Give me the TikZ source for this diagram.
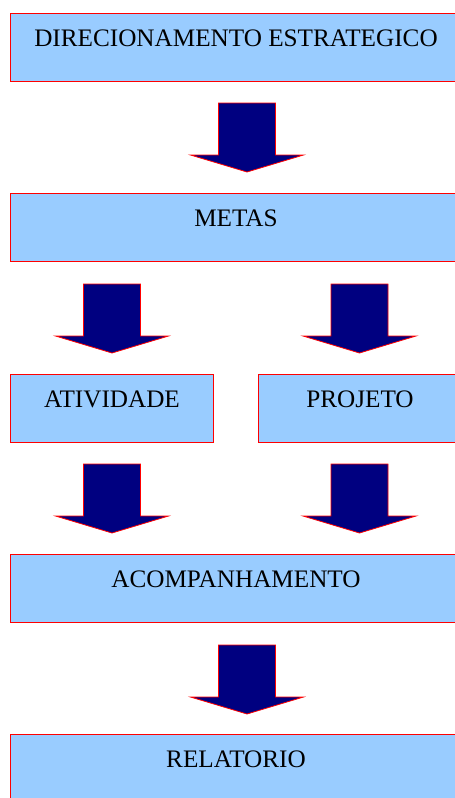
\documentclass[tikz,border=0pt]{standalone}
\usepackage{fontspec}
\setmainfont{Liberation Serif}
\definecolor{caixaazul}{HTML}{99CCFF}
\definecolor{setaazul}{HTML}{000080}

\tikzset{
  etapa/.style={draw=red, fill=caixaazul, line width=1pt, anchor=north west,
    inner xsep=0pt, inner ysep=0pt, minimum height=68pt,
    text height=33pt, text depth=35pt, font=\fontsize{25.2}{30}\selectfont},
  seta/.style={draw=red, fill=setaazul, line width=0.8pt, line join=miter}
}

% block arrow pointing down: #1 = x of the middle, #2 = y of the top
\newcommand{\setabaixo}[2]{%
  \draw[seta] (#1-28.5,#2) -- (#1+28.5,#2) -- (#1+28.5,#2+52) -- (#1+56.5,#2+52)
    -- (#1,#2+69) -- (#1-56.5,#2+52) -- (#1-28.5,#2+52) -- cycle;}

\begin{document}
\begin{tikzpicture}[x=1pt,y=-1pt]

\clip (0,0) rectangle (455,798);

% Boxes
\node [etapa, minimum width=451pt] (dir) at (10,13) {DIRECIONAMENTO ESTRATEGICO};
\node [etapa, minimum width=451pt] (metas) at (10,193) {METAS};
\node [etapa, minimum width=203pt] (atividade) at (10,374) {ATIVIDADE};
\node [etapa, minimum width=203pt] (projeto) at (258,374) {PROJETO};
\node [etapa, minimum width=451pt] (acomp) at (10,554) {ACOMPANHAMENTO};
\node [etapa, minimum width=451pt] (relatorio) at (10,734) {RELATORIO};

% Arrows
\setabaixo{247}{103}
\setabaixo{112}{284}
\setabaixo{359.5}{284}
\setabaixo{112}{464}
\setabaixo{359.5}{464}
\setabaixo{247}{645}

\end{tikzpicture}
\end{document}
